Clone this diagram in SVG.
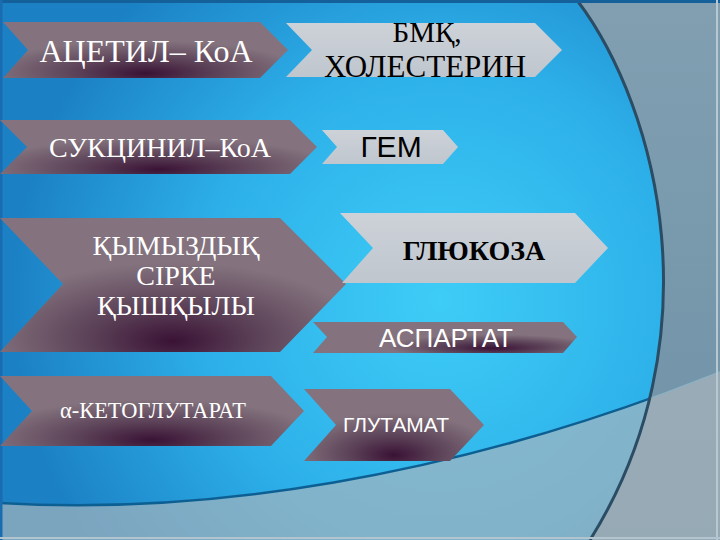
<svg xmlns="http://www.w3.org/2000/svg" width="720" height="540" viewBox="0 0 720 540">
  <defs>
    <radialGradient id="bgBlue" gradientUnits="userSpaceOnUse" cx="440" cy="300" r="430">
      <stop offset="0" stop-color="#3ecdf7"/>
      <stop offset="0.55" stop-color="#2db0e9"/>
      <stop offset="1" stop-color="#1b80c4"/>
    </radialGradient>
    <linearGradient id="rightGray" x1="0" y1="0" x2="0" y2="1">
      <stop offset="0" stop-color="#819fb1"/>
      <stop offset="1" stop-color="#6f92a7"/>
    </linearGradient>
    <radialGradient id="purple" cx="0.5" cy="0.88" r="0.55" fx="0.5" fy="0.92">
      <stop offset="0" stop-color="#3a1235"/>
      <stop offset="0.45" stop-color="#5c4258"/>
      <stop offset="1" stop-color="#84737e"/>
    </radialGradient>
    <radialGradient id="purpleR" cx="0.68" cy="0.8" r="0.4" fx="0.68" fy="0.85">
      <stop offset="0" stop-color="#3a1235"/>
      <stop offset="0.5" stop-color="#5c4258"/>
      <stop offset="1" stop-color="#84737e"/>
    </radialGradient>
    <linearGradient id="lightGray" x1="0" y1="0" x2="0" y2="1">
      <stop offset="0" stop-color="#cdd2d8"/>
      <stop offset="1" stop-color="#bfc6ce"/>
    </linearGradient>
    <clipPath id="blueArea">
      <path d="M0,0 L577,0 C660,110 715,340 590,540 L0,540 Z"/>
    </clipPath>
  </defs>
  <style>
    .dark { fill: url(#purple); }
    .light { fill: url(#lightGray); }
    .serifW { font-family: "Liberation Serif", "Times New Roman", serif; fill: #ffffff; text-anchor: middle; }
    .serifB { font-family: "Liberation Serif", "Times New Roman", serif; fill: #000000; text-anchor: middle; }
    .sansW { font-family: "Liberation Sans", Arial, sans-serif; fill: #ffffff; text-anchor: middle; }
    .sansB { font-family: "Liberation Sans", Arial, sans-serif; fill: #000000; text-anchor: middle; }
  </style>

  <!-- background -->
  <g id="background">
    <rect x="0" y="0" width="720" height="540" fill="url(#bgBlue)"/>
    <path d="M577,0 C660,110 715,340 590,540 L720,540 L720,0 Z" fill="url(#rightGray)"/>
    <path d="M0,503 C200,515 450,480 720,372 L720,540 L0,540 Z" fill="#a9b6bc" fill-opacity="0.68"/>
    <path d="M0,503 C200,515 450,480 720,372" fill="none" stroke="#8fb0c0" stroke-width="1.5"/>
    <path d="M0,503 C200,515 450,480 720,372" fill="none" stroke="#0c5f92" stroke-width="2.5" clip-path="url(#blueArea)"/>
    <path d="M577,0 C660,110 715,340 590,540" fill="none" stroke="#2a4c64" stroke-width="3"/>
    <rect x="0" y="0" width="720" height="3" fill="#14609a"/>
    <rect x="0" y="0" width="2.5" height="540" fill="#1a6cb0"/>
    <rect x="716" y="0" width="2" height="540" fill="#b8c8d0"/>
    <rect x="0" y="537" width="720" height="2" fill="#b2c4cd"/>
  </g>

  <g id="connectors"/>

  <g id="acetil-koa">
    <polygon class="dark" points="3,22 260,22 288,50 260,78 3,78 28,50"/>
    <text class="serifW" x="146" y="62" font-size="32">АЦЕТИЛ– КоА</text>
  </g>

  <g id="bmk-holesterin">
    <polygon class="light" points="286,23 535,23 562,50 535,77 286,77 312,50"/>
    <text class="serifB" x="427" y="42" font-size="29">БМҚ,</text>
    <text class="serifB" x="425" y="77" font-size="31">ХОЛЕСТЕРИН</text>
  </g>

  <g id="sukcinil-koa">
    <polygon class="dark" points="0,120 290,120 317,147 290,174 0,174 27,147"/>
    <text class="serifW" x="160" y="157" font-size="28">СУКЦИНИЛ–КоА</text>
  </g>

  <g id="gem">
    <polygon class="light" points="322,130 443,130 458,147 443,164 322,164 337,147"/>
    <text class="sansB" x="391" y="157" font-size="30">ГЕМ</text>
  </g>

  <g id="kymyzdyk">
    <polygon class="dark" points="0,218 280,218 346,284 280,352 0,352 63,284"/>
    <text class="serifW" x="176" y="255" font-size="28">ҚЫМЫЗДЫҚ</text>
    <text class="serifW" x="176" y="285" font-size="28">СІРКЕ</text>
    <text class="serifW" x="176" y="315" font-size="28">ҚЫШҚЫЛЫ</text>
  </g>

  <g id="glukoza">
    <polygon class="light" points="340,213 575,213 608,248 575,283 342,283 373,248"/>
    <text class="serifB" x="474" y="260" font-size="28" font-weight="bold">ГЛЮКОЗА</text>
  </g>

  <g id="aspartat">
    <polygon fill="url(#purpleR)" points="313,322 563,322 577,337 563,353 313,353 327,337"/>
    <text class="sansW" x="446" y="347" font-size="26">АСПАРТАТ</text>
  </g>

  <g id="ketoglutarat">
    <polygon class="dark" points="0,376 271,376 304,411 271,446 0,446 32,411"/>
    <text class="serifW" x="153" y="418" font-size="24" textLength="186" lengthAdjust="spacingAndGlyphs">α-КЕТОГЛУТАРАТ</text>
  </g>

  <g id="glutamat">
    <polygon class="dark" points="304,389 450,389 484,425 450,461 304,461 336,425"/>
    <text class="sansW" x="396" y="432" font-size="21" textLength="106" lengthAdjust="spacingAndGlyphs">ГЛУТАМАТ</text>
  </g>
</svg>
